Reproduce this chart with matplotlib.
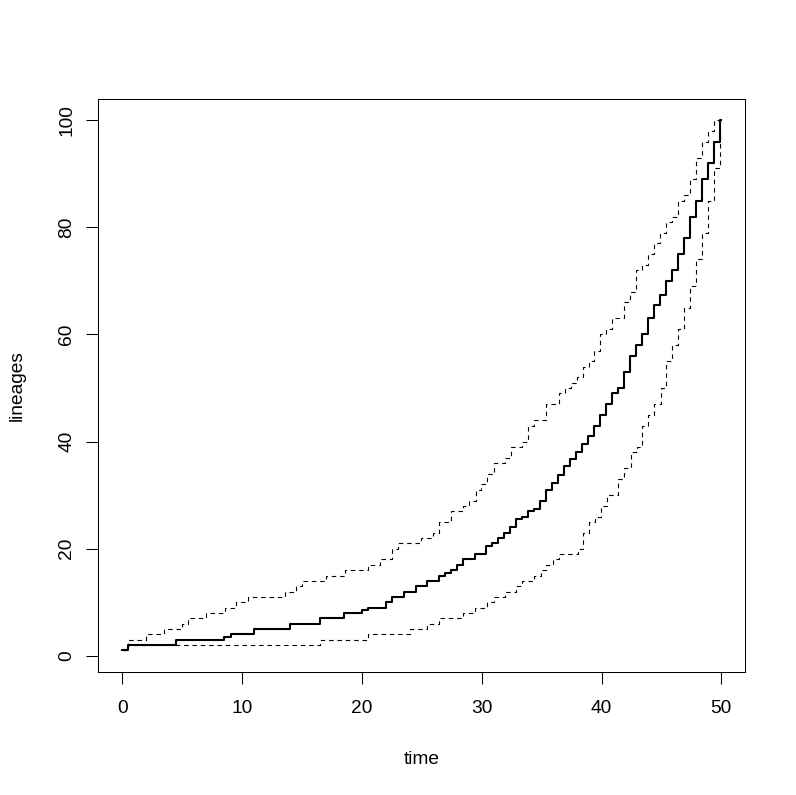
import matplotlib
matplotlib.use('Agg')
import matplotlib.pyplot as plt

plt.rcParams['font.family'] = ['Liberation Sans', 'DejaVu Sans']
plt.rcParams['lines.scale_dashes'] = False

# mean lineages-through-time curve
t_mean = [0.0, 0.5, 4.5, 8.5, 9.1, 11.0, 14.0, 16.5, 18.5, 20.0,
          20.5, 22.0, 22.5, 23.5, 24.5, 25.4, 26.4, 26.9, 27.4, 27.9,
          28.4, 29.4, 30.4, 30.9, 31.4, 31.9, 32.4, 32.9, 33.4, 33.9,
          34.4, 34.9, 35.4, 35.9, 36.4, 36.9, 37.4, 37.9, 38.4, 38.9,
          39.4, 39.9, 40.4, 40.9, 41.4, 41.9, 42.4, 42.9, 43.4, 43.9,
          44.4, 44.9, 45.4, 45.9, 46.4, 46.9, 47.4, 47.9, 48.4, 48.9,
          49.4, 49.9, 50.0]
n_mean = [1, 2, 3, 3.6, 4, 5, 6, 7, 8, 8.5,
          9, 10, 11, 12, 13, 14, 15, 15.5, 16, 17,
          18, 19, 20.5, 21, 22, 23, 24, 25.5, 26, 27,
          27.5, 29, 31, 32.3, 33.8, 35.4, 36.8, 38, 39.5, 41,
          43, 45, 47, 49, 50, 53, 56, 58, 60, 63,
          65.5, 67.4, 70, 72, 75, 78, 82, 85, 89, 92,
          96, 100, 100]

# upper bound
t_hi = [0.0, 0.5, 2.0, 3.5, 5.0, 5.5, 7.0, 8.6, 9.5, 10.5,
        13.6, 14.5, 15.0, 17.0, 18.6, 20.5, 21.5, 22.5, 23.0, 24.95,
        25.9, 26.4, 27.4, 28.4, 28.9, 29.5, 29.95, 30.45, 31.0, 31.95,
        32.45, 33.4, 33.9, 34.4, 35.4, 36.45, 36.95, 37.45, 37.95, 38.45,
        38.95, 39.4, 39.9, 40.4, 40.9, 41.9, 42.4, 42.9, 43.4, 43.9,
        44.4, 44.9, 45.4, 45.9, 46.4, 46.9, 47.4, 47.9, 48.4, 48.9,
        49.4, 50.0]
n_hi = [1, 3, 4, 5, 6, 7, 8, 9, 10, 11,
        12, 13, 14, 15, 16, 17, 18, 20, 21, 22,
        23, 25, 27, 28, 29, 31, 32, 34, 36, 37,
        39, 40, 43, 44, 47, 49, 50, 51, 52, 54,
        55, 57, 60, 61, 63, 66, 68, 72, 73, 75,
        77, 79, 81, 82, 85, 86, 89, 93, 96, 98,
        100, 100]

# lower bound
t_lo = [0.0, 0.5, 16.5, 20.5, 24.0, 25.45, 26.4, 28.4, 29.45, 30.45,
        31.0, 31.95, 32.9, 33.4, 34.4, 34.95, 35.4, 35.95, 36.45, 38.0,
        38.45, 38.95, 39.45, 39.95, 40.45, 41.4, 41.9, 42.45, 42.95, 43.4,
        43.9, 44.4, 44.95, 45.4, 45.9, 46.4, 46.9, 47.4, 47.9, 48.4,
        48.9, 49.4, 49.9, 50.0]
n_lo = [1, 2, 3, 4, 5, 6, 7, 8, 9, 10,
        11, 12, 13, 14, 15, 16, 17, 18, 19, 20,
        23, 25, 26, 28, 30, 33, 35, 38, 39, 43,
        45, 47, 50, 55, 58, 61, 65, 69, 74, 79,
        85, 91, 100, 100]

x_ticks = [0, 10, 20, 30, 40, 50]
y_ticks = [0, 20, 40, 60, 80, 100]

W, H = 796, 795
fig = plt.figure(figsize=(W / 100, H / 100), dpi=100)
ax = fig.add_axes([98.3 / W, 1 - 671.7 / H, (745.3 - 98.3) / W, (671.7 - 99) / H])

ax.plot(t_hi, n_hi, drawstyle='steps-post', color='black', lw=0.8, dashes=(3.2, 2.8))
ax.plot(t_lo, n_lo, drawstyle='steps-post', color='black', lw=0.8, dashes=(3.2, 2.8))
ax.plot(t_mean, n_mean, drawstyle='steps-post', color='black', lw=1.5)

ax.set_xlim(-2, 52)
ax.set_ylim(-2.96, 103.96)
ax.set_xticks(x_ticks)
ax.set_yticks(y_ticks)

for s in ax.spines.values():
    s.set_linewidth(0.75)

ax.tick_params(axis='both', length=8.6, width=0.75, labelsize=13.8, color='black')
ax.tick_params(axis='x', pad=11.5)
ax.tick_params(axis='y', pad=8, labelrotation=90)
for lab in ax.get_yticklabels():
    lab.set_va('center')

fig.text(421.8 / W, 1 - 764 / H, 'time', ha='center', va='baseline', fontsize=13.8)
fig.text(17.5 / W, 1 - 385.3 / H, 'lineages', ha='center', va='center', rotation=90, fontsize=13.8)

fig.savefig('out.png', dpi=100)
